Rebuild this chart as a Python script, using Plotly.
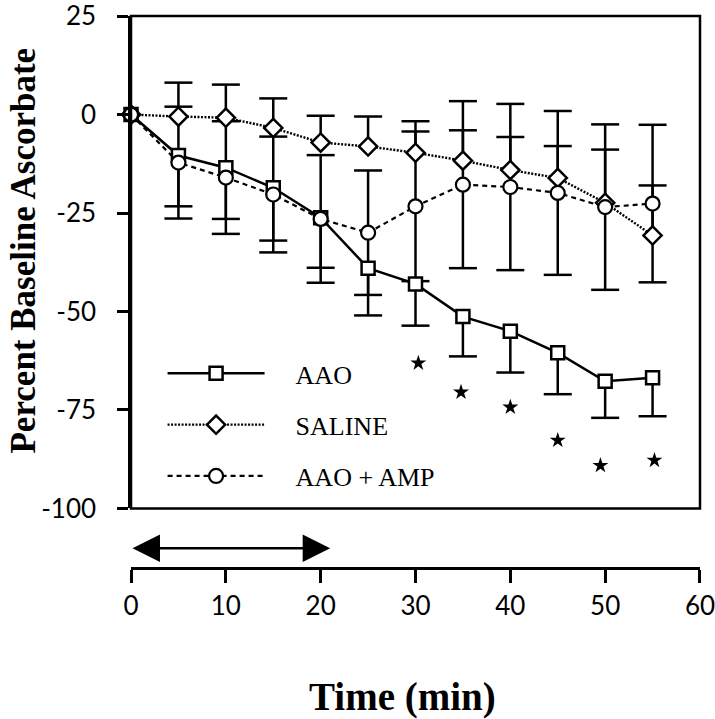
import plotly.graph_objects as go

# ---------------- data ----------------
time = [0, 5, 10, 15, 20, 25, 30, 35, 40, 45, 50, 55]

aao = [0, -10.4, -13.5, -18.6, -26.2, -39.0, -43.0, -51.3, -55.0, -60.5, -67.7, -66.8]
aao_err_lower = [None, 12.9, 13.0, 13.4, 12.7, 12.0, 10.6, 10.1, 10.5, 10.5, 9.3, 9.8]

saline = [0, -0.5, -0.8, -3.4, -7.1, -8.1, -9.7, -11.7, -14.1, -16.1, -22.4, -30.7]
saline_err_upper = [None, 8.6, 8.4, 7.5, 6.8, 7.6, 8.0, 7.7, 8.4, 8.1, 13.5, 12.7]

amp = [0, -12.2, -16.0, -20.3, -26.5, -30.0, -23.3, -17.8, -18.4, -19.9, -23.5, -22.6]
amp_err = [None, 14.2, 14.3, 14.7, 16.2, 15.8, 19.0, 21.2, 21.1, 20.8, 21.0, 20.0]

sig_x = [30.3, 34.8, 40.0, 45.0, 49.5, 55.2]
sig_y = [-63.1, -70.5, -74.3, -82.7, -89.1, -87.8]

treatment = [0, 21]          # infusion period (min)
x_ticks = [0, 10, 20, 30, 40, 50, 60]
x_labels = ["0", "10", "20", "30", "40", "50", "60"]
y_ticks = [25, 0, -25, -50, -75, -100]
y_labels = ["25", "0", "-25", "-50", "-75", "-100"]

# ---------------- helpers ----------------
def z(v):
    return [0 if e is None else e for e in v]

def ends(mean, err, sign):
    xs, ys = [], []
    for t, m, e in zip(time, mean, err):
        if e is not None:
            xs.append(t)
            ys.append(m + sign * e)
    return xs, ys

BLACK = "black"
EW = 2.5
fig = go.Figure()

# error bar stems (no caps) - drawn beneath everything
invis = dict(size=1, color="rgba(0,0,0,0)")
fig.add_trace(go.Scatter(x=time, y=saline, mode="markers", marker=invis, showlegend=False,
                         hoverinfo="skip", cliponaxis=False,
                         error_y=dict(type="data", symmetric=False, array=z(saline_err_upper),
                                      arrayminus=[0] * len(time), color=BLACK, thickness=EW, width=0)))
fig.add_trace(go.Scatter(x=time, y=amp, mode="markers", marker=invis, showlegend=False,
                         hoverinfo="skip", cliponaxis=False,
                         error_y=dict(type="data", array=z(amp_err), color=BLACK, thickness=EW, width=0)))
fig.add_trace(go.Scatter(x=time, y=aao, mode="markers", marker=invis, showlegend=False,
                         hoverinfo="skip", cliponaxis=False,
                         error_y=dict(type="data", symmetric=False, array=[0] * len(time),
                                      arrayminus=z(aao_err_lower), color=BLACK, thickness=EW, width=0)))

# caps
cap_x, cap_y = [], []
for m, e, s in [(saline, saline_err_upper, 1), (amp, amp_err, 1), (amp, amp_err, -1), (aao, aao_err_lower, -1)]:
    xs, ys = ends(m, e, s)
    cap_x += xs
    cap_y += ys
fig.add_trace(go.Scatter(x=cap_x, y=cap_y, mode="markers", showlegend=False, hoverinfo="skip",
                         cliponaxis=False,
                         marker=dict(symbol="line-ew", size=20, line=dict(color=BLACK, width=EW))))

# main series
PAD = "\u00a0\u00a0\u00a0\u00a0"
fig.add_trace(go.Scatter(x=time, y=aao, name=PAD + "AAO", mode="lines+markers", cliponaxis=False,
                         legendgroup="a", legendrank=1,
                         line=dict(color=BLACK, width=2.5),
                         marker=dict(symbol="square", size=13, color="white",
                                     line=dict(color=BLACK, width=2.5))))
fig.add_trace(go.Scatter(x=time, y=saline, name=PAD + "SALINE", mode="lines+markers", cliponaxis=False,
                         legendgroup="b", legendrank=2,
                         line=dict(color=BLACK, width=2.4, dash="2px,1.5px"),
                         marker=dict(symbol="diamond", size=14, color="white",
                                     line=dict(color=BLACK, width=2.5))))
fig.add_trace(go.Scatter(x=time, y=amp, name=PAD + "AAO + AMP", mode="lines+markers", cliponaxis=False,
                         legendgroup="c", legendrank=3,
                         line=dict(color=BLACK, width=2.2, dash="5px,4px"),
                         marker=dict(symbol="circle", size=14, color="white",
                                     line=dict(color=BLACK, width=2.2))))

# significance stars
fig.add_trace(go.Scatter(x=sig_x, y=sig_y, mode="markers", showlegend=False, hoverinfo="skip",
                         marker=dict(symbol="star", size=12, color=BLACK, line=dict(width=0))))

TICKFONT = dict(family="Lato, Liberation Sans, sans-serif", size=26, color=BLACK)
SERIF = "Liberation Serif, Times New Roman, serif"

fig.update_layout(
    width=715, height=719,
    margin=dict(l=131, r=15, t=16, b=151, autoexpand=False),
    paper_bgcolor="white", plot_bgcolor="white",
    showlegend=True,
    legend=dict(x=0.0555, y=0.395, xanchor="left", yanchor="top",
                bgcolor="rgba(0,0,0,0)", font=dict(family=SERIF, size=26, color=BLACK),
                itemwidth=97, tracegroupgap=14.5, traceorder="grouped"),
    xaxis=dict(range=[-0.002, 60.002], anchor="free", position=0, automargin=False,
               tickmode="array", tickvals=x_ticks, ticktext=x_labels,
               showline=True, linecolor=BLACK, linewidth=2.5, showgrid=False, zeroline=False,
               ticks="outside", ticklen=13, tickwidth=2.5, tickcolor=BLACK,
               tickfont=TICKFONT, ticklabelstandoff=1, ticklabeloverflow="allow"),
    yaxis=dict(range=[-100.02, 25.02], domain=[0.1078, 1], automargin=False,
               tickmode="array", tickvals=y_ticks, ticktext=y_labels,
               showline=True, linecolor=BLACK, linewidth=2.5, showgrid=False, zeroline=False,
               ticks="outside", ticklen=11, tickwidth=2.5, tickcolor=BLACK,
               tickfont=TICKFONT, ticklabelstandoff=16, ticklabeloverflow="allow"),
    shapes=[dict(type="rect", xref="x domain", yref="y domain", x0=0, x1=1, y0=0, y1=1,
                 line=dict(color=BLACK, width=2.5))],
    annotations=[
        dict(text="<b>Percent Baseline Ascorbate</b>", textangle=-90, xref="paper", yref="paper",
             x=-0.1890, y=0.576, xanchor="center", yanchor="middle", showarrow=False,
             font=dict(family=SERIF, size=35, color=BLACK)),
        dict(text="<b>Time (min)</b>", xref="paper", yref="paper", x=0.4763, y=-0.233,
             xanchor="center", yanchor="middle",
             showarrow=False, font=dict(family=SERIF, size=39, color=BLACK)),
        dict(text="", xref="x", yref="paper", x=treatment[1], y=0.036,
             axref="x", ayref="pixel", ax=treatment[0], ay=0,
             showarrow=True, arrowside="end+start", arrowhead=2, arrowsize=2.2,
             arrowwidth=2.5, arrowcolor=BLACK),
    ],
)

# remove the default 8px page margin so the figure fills the window exactly
fig.write_html("out.html",
               config={"displayModeBar": False},
               post_script="document.body.style.margin='0px';document.body.style.overflow='hidden';")
